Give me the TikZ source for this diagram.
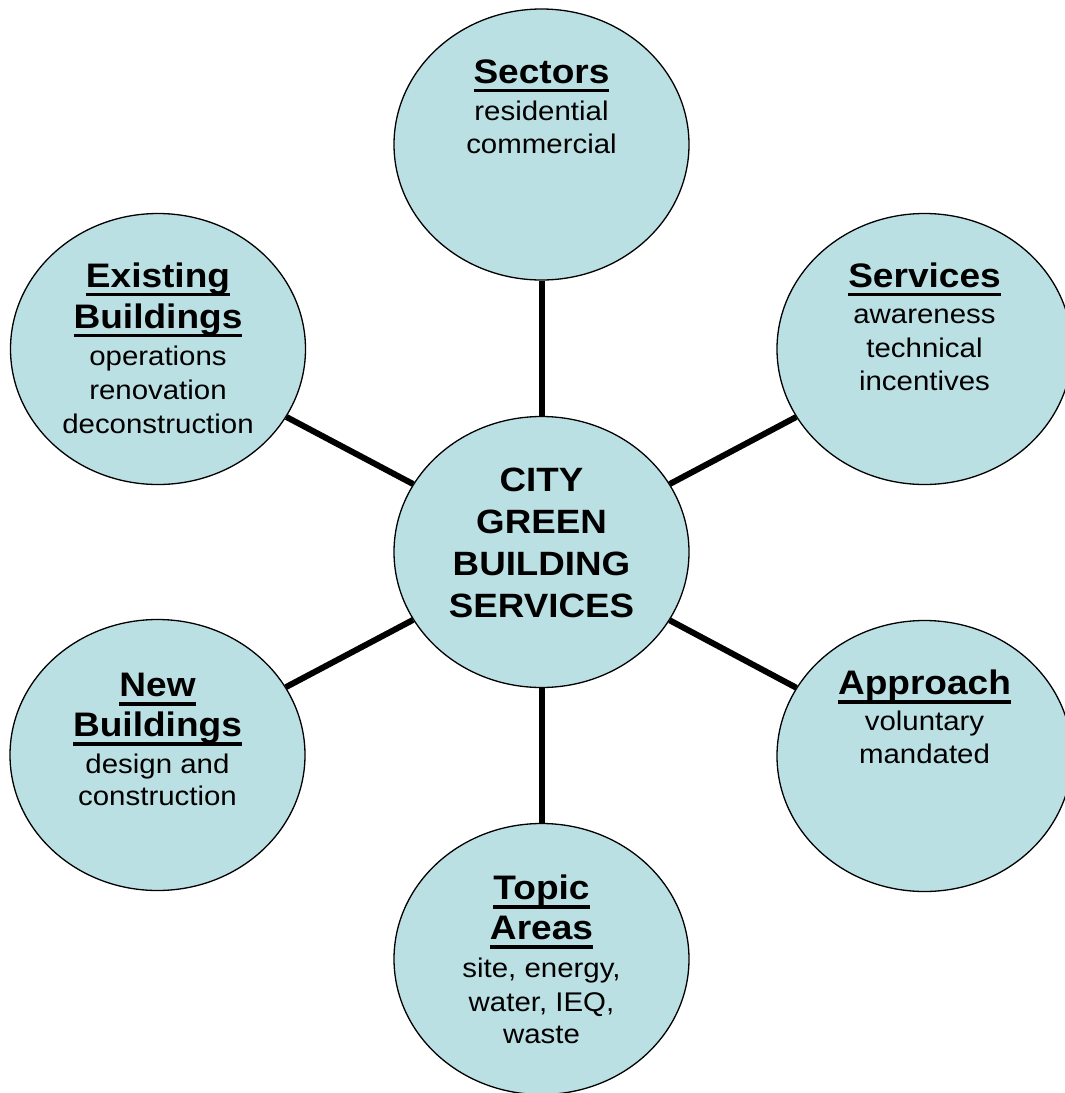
\documentclass[tikz,border=0pt]{standalone}
\usepackage{fontspec}
\setmainfont{Liberation Sans}[FakeStretch=1.09]
\usetikzlibrary{shapes.geometric}
\definecolor{bubble}{RGB}{187,224,228}
\newsavebox\ulsave
\newcommand\ulword[1]{\sbox\ulsave{#1}\rlap{\rule[-9pt]{\wd\ulsave}{3.6pt}}\usebox\ulsave}
\newcommand\tstack[1]{\vbox{\offinterlineskip\halign{\hfil##\hfil\cr#1\crcr}}}
\newcommand\TT[1]{\smash{\fontsize{34}{34}\selectfont\bfseries\ulword{#1}}}
\newcommand\BB[1]{\smash{\fontsize{27}{27}\selectfont #1}}
\newcommand\CC[1]{\smash{\fontsize{33.7}{33.7}\selectfont\bfseries #1}}
\newcommand\gp[1]{\cr\noalign{\kern#1pt}}
\tikzset{
  bubble/.style={ellipse, draw=black, line width=1.3pt, fill=bubble,
    minimum width=295pt, minimum height=271pt, inner sep=0pt},
  txt/.style={inner sep=0pt, anchor=north},
  spoke/.style={line width=6pt, black}
}
\begin{document}
\begin{tikzpicture}[x=1pt,y=-1pt]
\clip (0,0) rectangle (1065,1093);
\fill[white] (0,0) rectangle (1065,1093);
% bubbles
\node[bubble] (c)   at (541.5,552) {};
\node[bubble] (sec) at (541.5,144.5) {};
\node[bubble] (ser) at (924.5,349) {};
\node[bubble] (exi) at (158,349) {};
\node[bubble] (new) at (157.5,755) {};
\node[bubble] (app) at (924.5,756) {};
\node[bubble] (top) at (541.5,959) {};
% connectors
\draw[spoke] (c) -- (sec);
\draw[spoke] (c) -- (ser);
\draw[spoke] (c) -- (exi);
\draw[spoke] (c) -- (new);
\draw[spoke] (c) -- (app);
\draw[spoke] (c) -- (top);
% texts
\node[txt] (tc) at (541.5,491.7)
  {\tstack{\CC{CITY}\gp{41.7}\CC{GREEN}\gp{41.7}\CC{BUILDING}\gp{41.7}\CC{SERVICES}}};
\node[txt] (tsec) at (541.5,83)
  {\tstack{\TT{Sectors}\gp{37.5}\BB{residential}\gp{32.5}\BB{commercial}}};
\node[txt] (tser) at (924.5,287)
  {\tstack{\TT{Services}\gp{36.5}\BB{awareness}\gp{33.4}\BB{technical}\gp{33.4}\BB{incentives}}};
\node[txt] (texi) at (158,287)
  {\tstack{\TT{Existing}\gp{41}\TT{Buildings}\gp{37.3}\BB{operations}\gp{34}\BB{renovation}\gp{34}\BB{deconstruction}}};
\node[txt] (tnew) at (157.5,696.5)
  {\tstack{\TT{New}\gp{40}\TT{Buildings}\gp{36.5}\BB{design and}\gp{32.5}\BB{construction}}};
\node[txt] (tapp) at (924.5,694.5)
  {\tstack{\TT{Approach}\gp{35.7}\BB{voluntary}\gp{33}\BB{mandated}}};
\node[txt] (ttop) at (541.5,899.5)
  {\tstack{\TT{Topic}\gp{40}\TT{Areas}\gp{37.5}\BB{site, energy,}\gp{34}\BB{water, IEQ,}\gp{32.5}\BB{waste}}};
\end{tikzpicture}
\end{document}
